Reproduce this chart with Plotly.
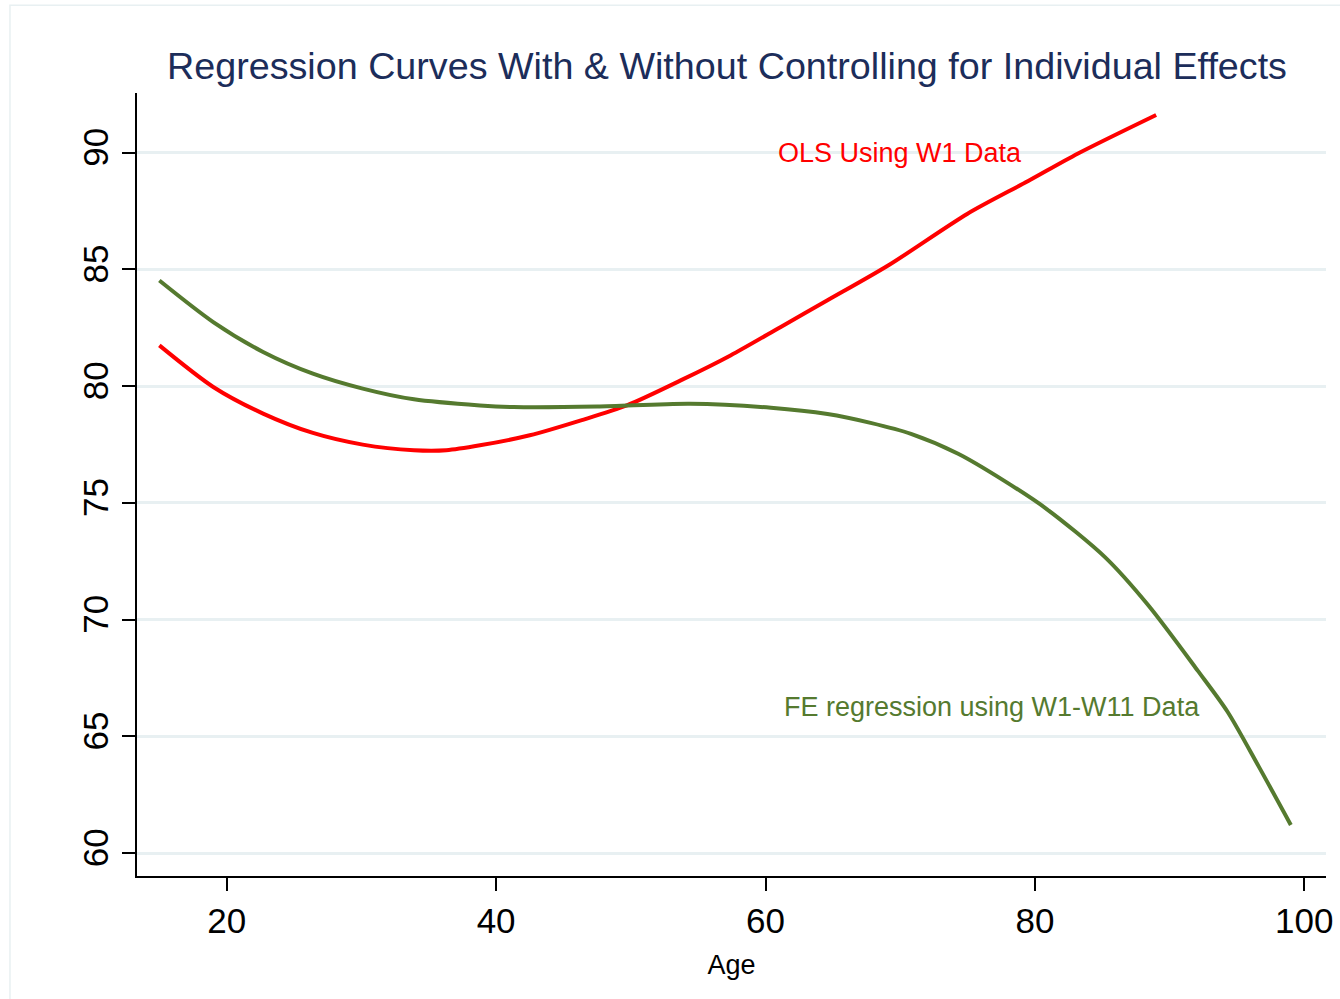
import plotly.graph_objects as go

# OLS using W1 data (red curve)
ols_age = [15.0, 19.0, 22.7, 26.4, 30.1, 33.9, 36.3, 38.8, 42.5, 46.3, 49.7,
           53.7, 57.4, 61.1, 64.6, 69.1, 75.0, 79.5, 83.2, 89.0]
ols_val = [81.74, 79.96, 78.82, 77.99, 77.49, 77.25, 77.25, 77.46, 77.89, 78.53, 79.17,
           80.24, 81.31, 82.52, 83.67, 85.16, 87.38, 88.78, 89.96, 91.61]

# FE regression using W1-W11 data (green curve)
fe_age = [15.0, 19.0, 22.7, 26.4, 30.1, 33.9, 38.8, 41.3, 47.5, 54.4, 60.4,
          64.6, 67.8, 70.8, 74.3, 77.7, 80.9, 85.2, 88.4, 92.1, 94.3, 96.6, 99.0]
fe_val = [84.52, 82.74, 81.46, 80.53, 79.89, 79.43, 79.17, 79.10, 79.12, 79.24, 79.07,
          78.80, 78.42, 77.95, 77.10, 75.95, 74.72, 72.67, 70.62, 67.80, 66.05, 63.72, 61.20]

x_ticks = [20, 40, 60, 80, 100]
y_ticks = [60, 65, 70, 75, 80, 85, 90]

title_text = "Regression Curves With & Without Controlling for Individual Effects"
ols_label = "OLS Using W1 Data"
fe_label = "FE regression using W1-W11 Data"

RED = "#FF0000"
GREEN = "#557A2F"
NAVY = "#1C2D5A"
GRID = "#E8F0F2"
FONT = "Liberation Sans, Arial, sans-serif"

PL, PR, PT, PB = 137, 1325.7, 92.7, 875.7
W, H = 1340, 999

fig = go.Figure()
fig.add_trace(go.Scatter(x=ols_age, y=ols_val, mode="lines",
                         line=dict(color=RED, width=4, shape="spline", smoothing=0.8),
                         showlegend=False))
fig.add_trace(go.Scatter(x=fe_age, y=fe_val, mode="lines",
                         line=dict(color=GREEN, width=4, shape="spline", smoothing=0.8),
                         showlegend=False))

fig.add_annotation(x=(776 - PL) / (PR - PL), y=90.0, xref="paper", yref="y",
                   text=ols_label, showarrow=False, xanchor="left", yanchor="middle",
                   font=dict(family=FONT, size=27, color=RED))
fig.add_annotation(x=(782 - PL) / (PR - PL), y=66.25, xref="paper", yref="y",
                   text=fe_label, showarrow=False, xanchor="left", yanchor="middle",
                   font=dict(family=FONT, size=27, color=GREEN))

# light outer frame
fig.add_shape(type="rect", xref="paper", yref="paper",
              x0=(10 - PL) / (PR - PL), x1=(1345 - PL) / (PR - PL),
              y0=(PB - 1010) / (PB - PT), y1=(PB - 5) / (PB - PT),
              line=dict(color=GRID, width=1.5), layer="below")

fig.update_layout(
    width=W, height=H,
    paper_bgcolor="white", plot_bgcolor="white",
    margin=dict(l=PL, r=W - PR, t=PT, b=H - PB, autoexpand=False),
    title=dict(text=title_text, x=727 / W, xref="container", xanchor="center",
               y=1 - 66 / H, yref="container", yanchor="middle",
               font=dict(family=FONT, size=37.7, color=NAVY)),
    font=dict(family=FONT, color="black"),
    xaxis=dict(range=[13.34, 101.61], tickvals=x_ticks, showgrid=False, zeroline=False,
               showline=True, linecolor="black", linewidth=1.5,
               ticks="outside", ticklen=13, tickwidth=1.5, tickcolor="black",
               tickfont=dict(family=FONT, size=35, color="black"),
               title=dict(text="Age", font=dict(family=FONT, size=27, color="black"),
                          standoff=16)),
    yaxis=dict(range=[59.015, 92.55], tickvals=y_ticks, showgrid=True, gridcolor=GRID,
               gridwidth=3, zeroline=False,
               showline=True, linecolor="black", linewidth=1.5,
               ticks="outside", ticklen=13, tickwidth=1.5, tickcolor="black",
               tickangle=-90,
               tickfont=dict(family=FONT, size=35, color="black")),
)

fig.write_html("out.html", config={"displayModeBar": False},
               post_script="document.body.style.margin='0';document.body.style.overflow='hidden';")
